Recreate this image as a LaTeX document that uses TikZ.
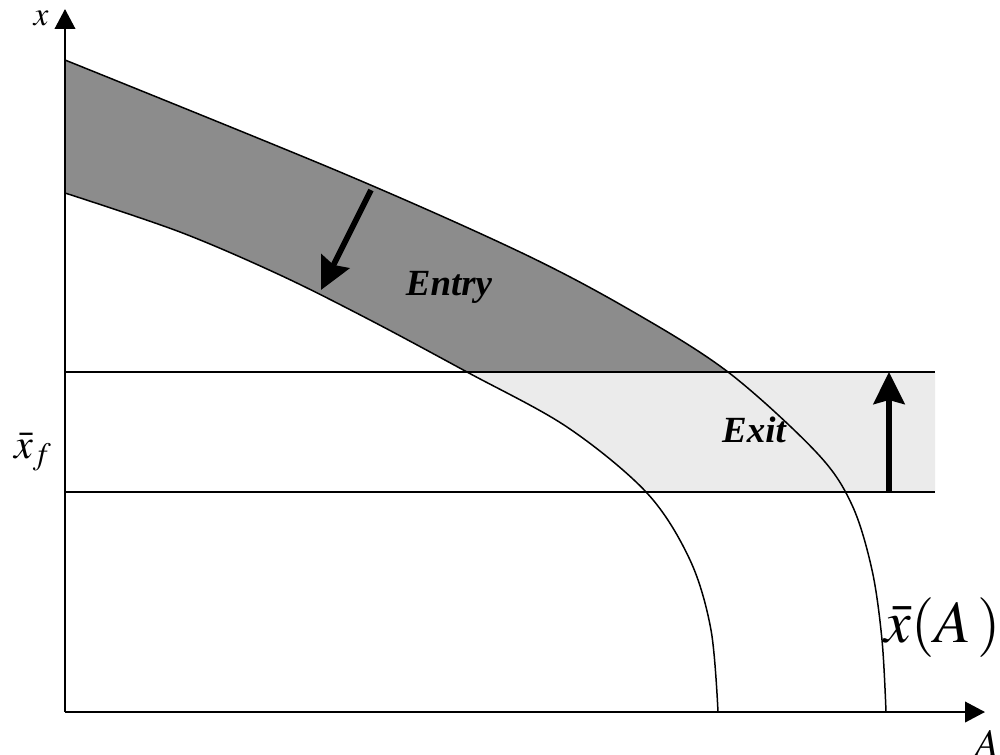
\documentclass[tikz,border=0pt]{standalone}
\usepackage{mathptmx}
\usepackage{fontspec}
\setmainfont{Liberation Serif}
\usetikzlibrary{arrows.meta}

\tikzset{
  axis/.style={line width=1.3pt,-{Triangle[length=0.4cm,width=0.41cm]}},
  curve/.style={line width=0.85pt},
  bigarrow/.style={line width=3.3pt,-{Stealth[length=0.64cm,width=0.62cm,inset=0.08cm]}},
  region/.style={font=\fontsize{21}{25}\selectfont\bfseries\itshape},
  smoothcurve/.style={smooth,tension=0.55}
}

\begin{document}
\begin{tikzpicture}[x=0.02cm,y=-0.02cm]
\useasboundingbox (0,0) rectangle (1000,754);
% shaded regions
\begin{scope}
\clip (65,0) rectangle (935,372);
\fill[black!45] plot[smoothcurve] coordinates {(65,60) (340,172) (520,252) (630,310) (728,372) (817,453) (852,505) (872,570) (882,640) (886,712)}
  -- plot[smoothcurve] coordinates {(718,712) (711,630) (690,560) (647,493) (567,427) (467,372) (370,320) (280,275) (180,232) (65,193)} -- cycle;
\end{scope}
\begin{scope}
\clip (65,372) rectangle (935,492);
\fill[black!8] plot[smoothcurve] coordinates {(65,193) (180,232) (280,275) (370,320) (467,372) (567,427) (647,493) (690,560) (711,630) (718,712)}
  -- (935,712) -- (935,0) -- cycle;
\end{scope}
% band limits
\draw[line width=1.1pt] (65,372) -- (935,372);
\draw[line width=1.1pt] (65,492) -- (935,492);
% curves
\draw[curve] plot[smoothcurve] coordinates {(65,60) (340,172) (520,252) (630,310) (728,372) (817,453) (852,505) (872,570) (882,640) (886,712)};
\draw[curve] plot[smoothcurve] coordinates {(65,193) (180,232) (280,275) (370,320) (467,372) (567,427) (647,493) (690,560) (711,630) (718,712)};
% axes
\coordinate (O) at (65,712);
\coordinate (ytip) at (65,9);
\coordinate (xtip) at (985,712);
\draw[axis] (O) -- (ytip);
\draw[axis] (O) -- (xtip);
\node (xlab) at (41,18) {\fontsize{19}{22}\selectfont$x$};
\node (Alab) at (987,744) {\fontsize{23}{26}\selectfont$A$};
\node (xf) at (33,452) {\fontsize{24}{28}\selectfont$\bar{x}_f$};
\node[anchor=west,inner sep=0pt] (xA) at (884,628) {\fontsize{34}{40}\selectfont$\bar{x}(A\,)$};
% shifts
\coordinate (e1) at (371,190);
\coordinate (e2) at (321,290);
\draw[bigarrow] (e1) -- (e2);
\coordinate (x1) at (889,492);
\coordinate (x2) at (889,372);
\draw[bigarrow] (x1) -- (x2);
\node[region] (entry) at (449,287) {Entry};
\node[region] (exit) at (754,430) {Exit};
\end{tikzpicture}
\end{document}
